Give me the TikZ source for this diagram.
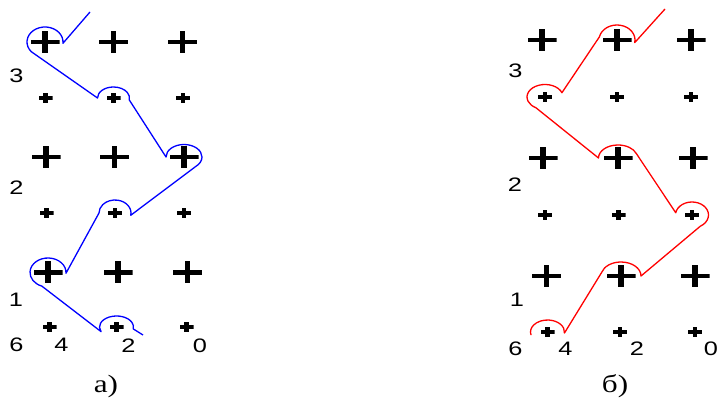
\documentclass[tikz,border=0pt]{standalone}
\usepackage{fontspec}
\setmainfont{Liberation Serif}
\newfontfamily\arialf{Liberation Sans}
\begin{document}
\begin{tikzpicture}[x=1pt,y=1pt,
  bigp/.style={inner sep=0pt, minimum width=29pt, minimum height=22pt,
    path picture={
      \fill[black] ([yshift=-2.4pt]path picture bounding box.west) rectangle ([yshift=2.4pt]path picture bounding box.east);
      \fill[black] ([xshift=-2.7pt]path picture bounding box.south) rectangle ([xshift=2.7pt]path picture bounding box.north);}},
  smallp/.style={inner sep=0pt, minimum width=14pt, minimum height=10pt,
    path picture={
      \fill[black] ([yshift=-2.1pt]path picture bounding box.west) rectangle ([yshift=2.1pt]path picture bounding box.east);
      \fill[black] ([xshift=-2.4pt]path picture bounding box.south) rectangle ([xshift=2.4pt]path picture bounding box.north);}},
  lab/.style={inner sep=0pt, font=\arialf\fontsize{19.5}{21}\selectfont},
  capt/.style={inner sep=0pt, font=\fontsize{25}{28}\selectfont},
  bluecurve/.style={draw=blue, line width=1.3pt, line join=round},
  redcurve/.style={draw=red, line width=1.3pt, line join=round}]
\useasboundingbox (0,0) rectangle (719,403);

% ---------- left panel ----------
\node[bigp] (La1) at (45,361) {};
\node[bigp] (La2) at (113.5,361) {};
\node[bigp] (La3) at (182.5,361) {};
\node[smallp] (Lb1) at (45.5,305) {};
\node[smallp] (Lb2) at (113.5,305) {};
\node[smallp] (Lb3) at (183,305) {};
\node[bigp] (Lc1) at (46,246) {};
\node[bigp] (Lc2) at (114.5,246) {};
\node[bigp] (Lc3) at (184,246) {};
\node[smallp] (Ld1) at (46.5,190) {};
\node[smallp] (Ld2) at (115,190) {};
\node[smallp] (Ld3) at (184,190) {};
\node[bigp] (Le1) at (48,130.5) {};
\node[bigp] (Le2) at (118,130.5) {};
\node[bigp] (Le3) at (187.5,130.5) {};
\node[smallp] (Lf1) at (49.5,76) {};
\node[smallp] (Lf2) at (116.5,76) {};
\node[smallp] (Lf3) at (186.5,76) {};

\node[lab] (Ln3) at (16.5,327.5) {\scalebox{1.3}[1]{3}};
\node[lab] (Ln2) at (16.5,215) {\scalebox{1.3}[1]{2}};
\node[lab] (Ln1) at (16,103) {\scalebox{1.3}[1]{1}};
\node[lab] (Lx6) at (16.5,58) {\scalebox{1.3}[1]{6}};
\node[lab] (Lx4) at (61.5,58) {\scalebox{1.3}[1]{4}};
\node[lab] (Lx2) at (128.5,57) {\scalebox{1.3}[1]{2}};
\node[lab] (Lx0) at (200,57) {\scalebox{1.3}[1]{0}};
\node[capt] (Lcap) at (106,17) {\scalebox{1.25}[1]{а)}};

\coordinate (Ls) at (90,391);
\coordinate (Le) at (143,68);
\path[bluecurve] (Ls)
  -- ([shift={(-5:18 and 15)}]La1.center) arc[start angle=-5, end angle=220, x radius=18, y radius=15]
  -- ([shift={(180:16 and 11)}]Lb2.center) arc[start angle=180, end angle=-10, x radius=16, y radius=11]
  -- ([shift={(180:18 and 12.5)}]Lc3.center) arc[start angle=180, end angle=-50, x radius=18, y radius=12.5]
  -- ([shift={(-10:16 and 13)}]Ld2.center) arc[start angle=-10, end angle=180, x radius=16, y radius=13]
  -- ([shift={(-3:18 and 14.5)}]Le1.center) arc[start angle=-3, end angle=250, x radius=18, y radius=14.5]
  -- ([shift={(205:17 and 11)}]Lf2.center) arc[start angle=205, end angle=-10, x radius=17, y radius=11]
  -- (Le);

% ---------- right panel ----------
\node[bigp] (Ra1) at (542,363) {};
\node[bigp] (Ra2) at (617,363) {};
\node[bigp] (Ra3) at (691,363) {};
\node[smallp] (Rb1) at (545,306) {};
\node[smallp] (Rb2) at (617,306) {};
\node[smallp] (Rb3) at (691,306) {};
\node[bigp] (Rc1) at (543,245) {};
\node[bigp] (Rc2) at (618,245) {};
\node[bigp] (Rc3) at (693,245) {};
\node[smallp] (Rd1) at (545,188) {};
\node[smallp] (Rd2) at (618.5,188) {};
\node[smallp] (Rd3) at (692,188) {};
\node[bigp] (Re1) at (546.5,127) {};
\node[bigp] (Re2) at (621,127) {};
\node[bigp] (Re3) at (695,127) {};
\node[smallp] (Rf1) at (547.5,71) {};
\node[smallp] (Rf2) at (620,71) {};
\node[smallp] (Rf3) at (695,71) {};

\node[lab] (Rn3) at (515.5,332.5) {\scalebox{1.3}[1]{3}};
\node[lab] (Rn2) at (515,218.5) {\scalebox{1.3}[1]{2}};
\node[lab] (Rn1) at (517,103) {\scalebox{1.3}[1]{1}};
\node[lab] (Rx6) at (515.5,54) {\scalebox{1.3}[1]{6}};
\node[lab] (Rx4) at (565.5,54) {\scalebox{1.3}[1]{4}};
\node[lab] (Rx2) at (637,54) {\scalebox{1.3}[1]{2}};
\node[lab] (Rx0) at (711,54) {\scalebox{1.3}[1]{0}};
\node[capt] (Rcap) at (615,17) {\scalebox{1.25}[1]{б)}};

\coordinate (Rs) at (665,394);
\path[redcurve] (Rs)
  -- ([shift={(-10:18 and 15)}]Ra2.center) arc[start angle=-10, end angle=168, x radius=18, y radius=15]
  -- ([shift={(20:18 and 12.5)}]Rb1.center) arc[start angle=20, end angle=240, x radius=18, y radius=12.5]
  -- ([shift={(180:19.5 and 13)}]Rc2.center) arc[start angle=180, end angle=20, x radius=19.5, y radius=13]
  -- ([shift={(170:16.5 and 13)}]Rd3.center) arc[start angle=170, end angle=-60, x radius=16.5, y radius=13]
  -- ([shift={(0:20 and 14)}]Re2.center) arc[start angle=0, end angle=165, x radius=20, y radius=14]
  -- ([shift={(-5:17 and 12)}]Rf1.center) arc[start angle=-5, end angle=195, x radius=17, y radius=12];
\end{tikzpicture}
\end{document}
